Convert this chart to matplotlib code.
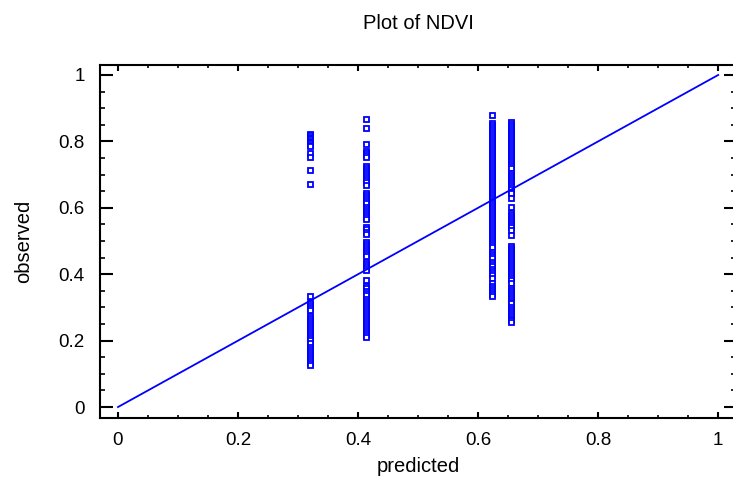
import numpy as np
import matplotlib
matplotlib.use("Agg")
import matplotlib.pyplot as plt
from matplotlib.ticker import MultipleLocator

plt.rcParams["font.family"] = ["Liberation Sans", "DejaVu Sans"]

predicted_levels = [0.32, 0.413, 0.623, 0.655]

obs_032 = [0.822, 0.818, 0.814, 0.810, 0.806, 0.802, 0.798, 0.794, 0.790, 0.786,
           0.765, 0.753, 0.714, 0.672,
           0.334, 0.316, 0.310, 0.304, 0.298, 0.292, 0.274, 0.268, 0.262, 0.256,
           0.250, 0.244, 0.238, 0.232, 0.226, 0.220, 0.214, 0.208, 0.202, 0.193,
           0.181, 0.175, 0.169, 0.163, 0.157, 0.151, 0.145, 0.139, 0.133, 0.128]

obs_041 = [0.866, 0.841, 0.793, 0.772, 0.766, 0.759, 0.752, 0.727, 0.721, 0.715,
           0.709, 0.703, 0.697, 0.691, 0.685, 0.679, 0.668, 0.644, 0.638, 0.632,
           0.626, 0.620, 0.614, 0.601, 0.595, 0.589, 0.583, 0.577, 0.571, 0.565,
           0.541, 0.535, 0.528, 0.521, 0.498, 0.492, 0.486, 0.480, 0.474, 0.468,
           0.462, 0.456, 0.438, 0.432, 0.426, 0.420, 0.413, 0.383, 0.364, 0.357,
           0.350, 0.343, 0.337, 0.324, 0.318, 0.312, 0.306, 0.300, 0.294, 0.288,
           0.282, 0.276, 0.270, 0.264, 0.258, 0.252, 0.246, 0.240, 0.234, 0.228,
           0.222, 0.216, 0.211]

obs_062 = [0.879, 0.854, 0.848, 0.842, 0.836, 0.830, 0.824, 0.818, 0.812, 0.806,
           0.800, 0.794, 0.788, 0.782, 0.776, 0.770, 0.764, 0.758, 0.752, 0.746,
           0.740, 0.734, 0.728, 0.722, 0.716, 0.710, 0.704, 0.698, 0.692, 0.686,
           0.680, 0.674, 0.668, 0.662, 0.656, 0.650, 0.644, 0.638, 0.632, 0.626,
           0.620, 0.614, 0.608, 0.602, 0.596, 0.590, 0.584, 0.578, 0.572, 0.566,
           0.560, 0.554, 0.548, 0.542, 0.536, 0.530, 0.524, 0.518, 0.512, 0.506,
           0.500, 0.494, 0.488, 0.483, 0.468, 0.461, 0.455, 0.448, 0.438, 0.431,
           0.424, 0.417, 0.410, 0.404, 0.398, 0.390, 0.373, 0.366, 0.359, 0.352,
           0.346, 0.340, 0.334]

obs_066 = [0.859, 0.853, 0.847, 0.841, 0.835, 0.829, 0.823, 0.817, 0.811, 0.805,
           0.799, 0.793, 0.787, 0.781, 0.775, 0.769, 0.763, 0.757, 0.751, 0.745,
           0.739, 0.733, 0.727, 0.719, 0.704, 0.698, 0.692, 0.686, 0.680, 0.674,
           0.668, 0.662, 0.656, 0.649, 0.645, 0.630, 0.603, 0.583, 0.577, 0.571,
           0.565, 0.559, 0.553, 0.547, 0.541, 0.533, 0.518, 0.486, 0.478, 0.472,
           0.466, 0.460, 0.454, 0.448, 0.442, 0.436, 0.430, 0.424, 0.418, 0.412,
           0.406, 0.400, 0.394, 0.388, 0.382, 0.373, 0.359, 0.353, 0.347, 0.341,
           0.335, 0.329, 0.323, 0.317, 0.312, 0.302, 0.296, 0.290, 0.284, 0.278,
           0.272, 0.266, 0.261, 0.257]

observed_groups = [obs_032, obs_041, obs_062, obs_066]

diag = [0, 1]

fig = plt.figure(figsize=(7.33, 4.87), dpi=100)
ax = fig.add_axes([0.1364, 0.1417, 0.868, 0.7248])

for xp, obs in zip(predicted_levels, observed_groups):
    ax.plot([xp] * len(obs), obs, "s", ms=3.6, mfc="white", mec="#0000ff",
            mew=1.3, linestyle="none")

ax.plot(diag, diag, color="#0000ff", lw=1.3)

ax.set_xlim(-0.03, 1.03)
ax.set_ylim(-0.033, 1.03)

ax.xaxis.set_major_locator(MultipleLocator(0.2))
ax.xaxis.set_minor_locator(MultipleLocator(0.05))
ax.yaxis.set_major_locator(MultipleLocator(0.2))
ax.yaxis.set_minor_locator(MultipleLocator(0.05))
ax.xaxis.set_major_formatter(plt.FuncFormatter(lambda v, p: f"{v:g}"))
ax.yaxis.set_major_formatter(plt.FuncFormatter(lambda v, p: f"{v:g}"))

ax.tick_params(axis="x", which="major", direction="in", length=4.5, width=1.5,
               top=True, pad=10, labelsize=13.5)
ax.tick_params(axis="x", which="minor", direction="in", length=2.2, width=1.2, top=True)
ax.tick_params(axis="y", which="major", direction="in", length=9, width=1.5,
               right=True, pad=11, labelsize=13.5)
ax.tick_params(axis="y", which="minor", direction="in", length=3.8, width=1.2, right=True)

for s in ax.spines.values():
    s.set_linewidth(1.5)

ax.set_title("Plot of NDVI", fontsize=14.5, pad=26)
ax.set_xlabel("predicted", fontsize=14.5, labelpad=6)
ax.set_ylabel("observed", fontsize=14.5, labelpad=18)

fig.savefig("out.png", dpi=100)
